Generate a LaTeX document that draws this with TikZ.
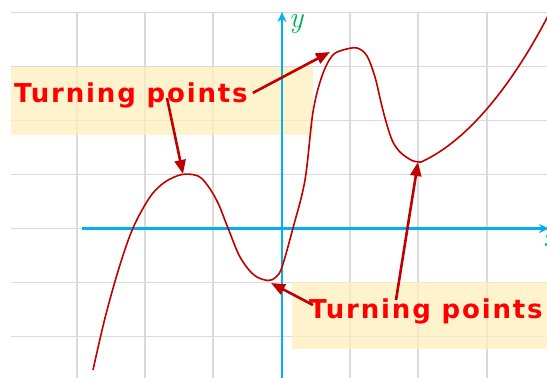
\documentclass[tikz,border=0pt]{standalone}
\usepackage{fontspec}
\newfontfamily\tpfont[LetterSpace=7]{DejaVu Sans}
\usetikzlibrary{arrows.meta}
\definecolor{gridc}{HTML}{DADADA}
\definecolor{axisc}{HTML}{00B0F0}
\definecolor{curvec}{HTML}{C00000}
\definecolor{labc}{HTML}{00B050}
\definecolor{boxc}{HTML}{FFEFBE}
\definecolor{txtc}{HTML}{FF0000}
\tikzset{
  gridline/.style={draw=gridc, line width=1.6pt},
  axisline/.style={draw=axisc, line width=2.4pt, -{Stealth[length=10pt,width=9pt]}},
  axlabel/.style={text=labc, font=\fontsize{30}{30}\selectfont\itshape, inner sep=0pt},
  hlbox/.style={fill=boxc, fill opacity=0.75, draw=none},
  tptext/.style={text=txtc, font=\tpfont\bfseries\fontsize{26}{28}\selectfont, inner sep=0pt, anchor=base west},
  pointer/.style={draw=curvec, line width=2.6pt, -{Triangle[length=14pt,width=11pt]}},
  graph/.style={draw=curvec, line width=1.6pt}
}
\begin{document}
\begin{tikzpicture}[x=1pt,y=-1pt]
\useasboundingbox (0,0) rectangle (547,378);
% grid
\foreach \yy in {12.5,66.5,120.5,174.5,228.5,282.5,336.5}
  \draw[gridline] (11,\yy) -- (547,\yy);
\foreach \xx in {77,145,213,350,418,487}
  \draw[gridline] (\xx,12.5) -- (\xx,378);
% highlight boxes
\path[hlbox] (11,67) rectangle (313,135);
\path[hlbox] (292,282) rectangle (547,349);
% axes
\coordinate (xs) at (82,228.5);
\coordinate (xe) at (549,228.5);
\coordinate (ys) at (282,380);
\coordinate (ye) at (282,12);
\draw[axisline] (xs) -- (xe);
\draw[axisline] (ys) -- (ye);
\node[axlabel] (ylab) at (296,24) {y};
\node[axlabel] (xlab) at (550,240) {x};
% curve
\draw[graph] plot[smooth, tension=0.55] coordinates {
 (93,370) (105,318) (119,268) (133,228) (150,197) (165,182) (182,174.5) (198,176) (208,186)
 (218,203) (228,228) (240,257) (254,275) (268,280.5) (276,277) (282,267) (293,228)
 (305,180) (313,112) (322,76) (332,56) (343,50) (357,48) (367,56) (375,77) (380,98)
 (385,118) (392,140) (400,152) (412,160.5) (421,162)}
 .. controls (470,140) and (515,80) .. (549,14);
% turning points
\coordinate (tp1) at (183,174);
\coordinate (tp2) at (330,52);
\coordinate (tp3) at (271,283);
\coordinate (tp4) at (418,162);
% labels
\node[tptext] (t1) at (14,102) {Turning points};
\node[tptext] (t2) at (309,318) {Turning points};
\coordinate (s2) at (167,98);
\coordinate (s3) at (313,305);
\coordinate (s4) at (396,300);
\draw[pointer] (t1.east) ++(5,-2) coordinate (s1) -- (tp2);
\draw[pointer] (s2) -- (tp1);
\draw[pointer] (s3) -- (tp3);
\draw[pointer] (s4) -- (tp4);
\end{tikzpicture}
\end{document}
